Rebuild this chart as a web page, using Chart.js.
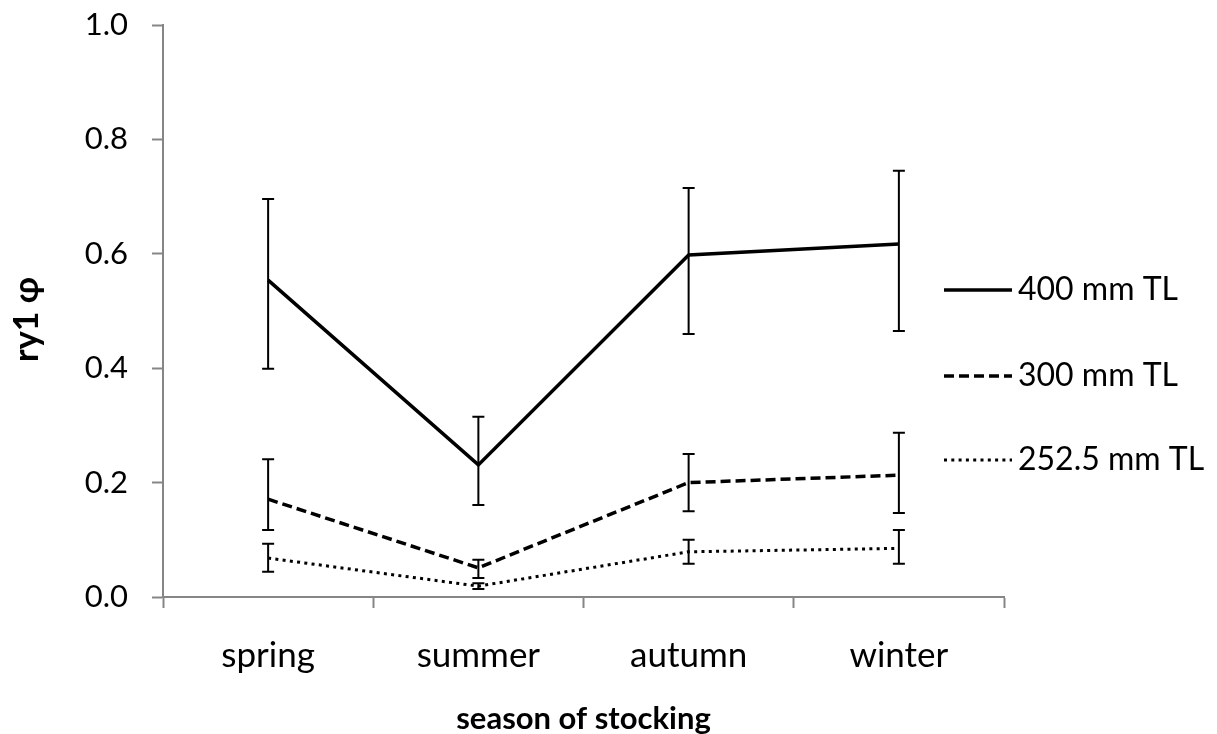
<!DOCTYPE html>
<html>
<head>
<meta charset="utf-8">
<script src="https://cdn.jsdelivr.net/npm/chart.js@4/dist/chart.umd.min.js"></script>
<style>
  html, body { margin: 0; padding: 0; background: #fff; }
  #wrap { width: 1217px; height: 734px; }
</style>
</head>
<body>
<div id="wrap"><canvas id="chart" width="1217" height="734"></canvas></div>
<script>
// categories
const seasons = ["spring", "summer", "autumn", "winter"];

// ry1 phi estimates and error bar limits per fish size
const tl400 = [0.554, 0.231, 0.598, 0.617];
const tl400Lo = [0.399, 0.161, 0.460, 0.465];
const tl400Hi = [0.696, 0.315, 0.715, 0.745];

const tl300 = [0.171, 0.051, 0.200, 0.213];
const tl300Lo = [0.117, 0.033, 0.150, 0.147];
const tl300Hi = [0.241, 0.065, 0.250, 0.287];

const tl252 = [0.068, 0.019, 0.079, 0.085];
const tl252Lo = [0.044, 0.014, 0.058, 0.058];
const tl252Hi = [0.093, 0.024, 0.100, 0.117];

const seriesNames = ["400 mm TL", "300 mm TL", "252.5 mm TL"];

const FONT = "Lato, 'Open Sans', sans-serif";
const AXIS_GREY = "#868686";

// draws the error bars through the chart's own scales
const errorBars = {
  id: "errorBars",
  afterDatasetsDraw(chart) {
    const { ctx, scales: { x, y } } = chart;
    ctx.save();
    ctx.strokeStyle = "#000";
    ctx.lineWidth = 2;
    ctx.setLineDash([]);
    chart.data.datasets.forEach((ds) => {
      ds.data.forEach((v, i) => {
        const px = x.getPixelForValue(i);
        const top = y.getPixelForValue(ds.errHi[i]);
        const bot = y.getPixelForValue(ds.errLo[i]);
        ctx.beginPath();
        ctx.moveTo(px, top);
        ctx.lineTo(px, bot);
        ctx.moveTo(px - 6, top);
        ctx.lineTo(px + 6, top);
        ctx.moveTo(px - 6, bot);
        ctx.lineTo(px + 6, bot);
        ctx.stroke();
      });
    });
    ctx.restore();
  }
};

// legend on the right, one sample line per series
const sideLegend = {
  id: "sideLegend",
  afterDraw(chart) {
    const { ctx, chartArea } = chart;
    const x0 = chartArea.right - 60;
    const rows = [290, 376, 460];
    ctx.save();
    chart.data.datasets.forEach((ds, i) => {
      const yy = rows[i];
      ctx.strokeStyle = "#000";
      ctx.lineWidth = ds.borderWidth;
      ctx.lineCap = "butt";
      ctx.setLineDash(ds.borderDash || []);
      ctx.beginPath();
      ctx.moveTo(x0, yy);
      ctx.lineTo(x0 + 68, yy);
      ctx.stroke();
      ctx.setLineDash([]);
      ctx.fillStyle = "#000";
      ctx.font = "32px " + FONT;
      ctx.textBaseline = "middle";
      ctx.textAlign = "left";
      ctx.fillText(ds.label, x0 + 74, yy);
    });
    ctx.restore();
  }
};

new Chart(document.getElementById("chart"), {
  type: "line",
  data: {
    labels: seasons,
    datasets: [
      {
        label: seriesNames[0],
        data: tl400,
        errLo: tl400Lo,
        errHi: tl400Hi,
        borderColor: "#000",
        borderWidth: 3.5,
        pointRadius: 0,
        tension: 0
      },
      {
        label: seriesNames[1],
        data: tl300,
        errLo: tl300Lo,
        errHi: tl300Hi,
        borderColor: "#000",
        borderWidth: 3.5,
        borderDash: [10, 5],
        pointRadius: 0,
        tension: 0
      },
      {
        label: seriesNames[2],
        data: tl252,
        errLo: tl252Lo,
        errHi: tl252Hi,
        borderColor: "#000",
        borderWidth: 3,
        borderDash: [3, 4.3],
        pointRadius: 0,
        tension: 0
      }
    ]
  },
  options: {
    responsive: false,
    animation: false,
    layout: { padding: { top: 25, right: 213, left: 0, bottom: 0 } },
    plugins: {
      legend: { display: false },
      tooltip: { enabled: false }
    },
    scales: {
      x: {
        offset: true,
        afterFit(scale) { scale.height = 137; },
        grid: {
          offset: true,
          drawOnChartArea: false,
          color: AXIS_GREY,
          tickLength: 11,
          tickWidth: 2
        },
        border: { color: AXIS_GREY, width: 2 },
        ticks: {
          color: "#000",
          padding: 27,
          font: { family: FONT, size: 35 }
        },
        title: {
          display: true,
          text: "season of stocking",
          color: "#000",
          padding: { top: 0, bottom: 0 },
          font: { family: FONT, size: 31, weight: "bold", lineHeight: 1 }
        }
      },
      y: {
        min: 0,
        max: 1,
        afterFit(scale) {
          scale.width = 163;
          scale.paddingTop = 0;
          scale.paddingBottom = 0;
        },
        grid: {
          drawOnChartArea: false,
          color: AXIS_GREY,
          tickLength: 11,
          tickWidth: 2
        },
        border: { color: AXIS_GREY, width: 2 },
        ticks: {
          stepSize: 0.2,
          color: "#000",
          padding: 24,
          font: { family: FONT, size: 31 },
          callback: (v) => Number(v).toFixed(1)
        },
        title: {
          display: true,
          text: "ry1 φ\u2002",
          color: "#000",
          padding: { top: 10, bottom: 0 },
          font: { family: FONT, size: 34, weight: "bold", lineHeight: 1 }
        }
      }
    }
  },
  plugins: [errorBars, sideLegend]
});
</script>
</body>
</html>
